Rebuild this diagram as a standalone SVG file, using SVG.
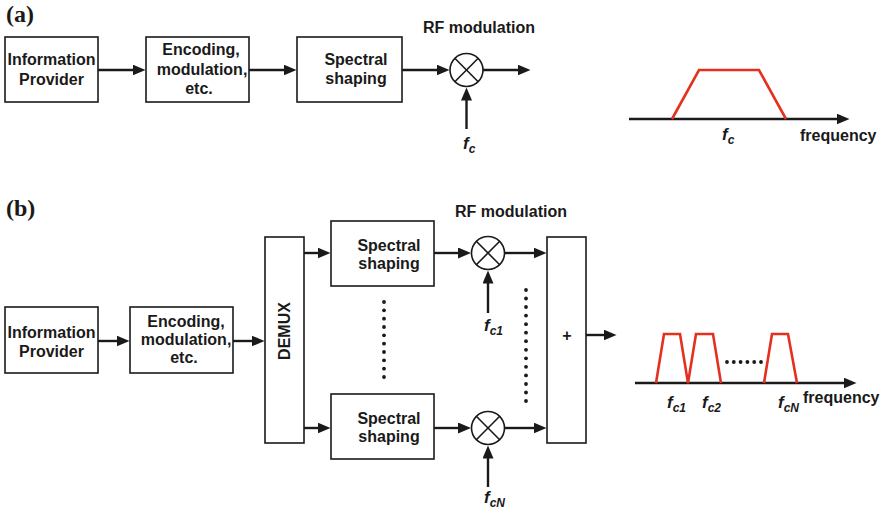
<svg xmlns="http://www.w3.org/2000/svg" width="884" height="514" viewBox="0 0 884 514">
  <style>
    .box { fill: #fff; stroke: #1a1a1a; stroke-width: 1.6; }
    .lbl { font-family: "Liberation Sans", Arial, sans-serif; font-weight: bold; font-size: 16px; fill: #1a1a1a; }
    .mid { text-anchor: middle; }
    .panel { font-family: "Liberation Serif", "Times New Roman", serif; font-weight: bold; font-size: 24px; fill: #1a1a1a; }
    .fsym { font-family: "Liberation Sans", Arial, sans-serif; font-weight: bold; font-style: italic; font-size: 17px; fill: #1a1a1a; }
    .sub { font-size: 12px; }
    .wire { stroke: #1a1a1a; stroke-width: 2.4; fill: none; }
    .arr { marker-end: url(#head); }
    .mix { fill: #fff; stroke: #1a1a1a; stroke-width: 1.6; }
    .cross { stroke: #1a1a1a; stroke-width: 1.6; }
    .spec { stroke: #e5301f; stroke-width: 2.6; fill: none; stroke-linejoin: miter; }
    .dot { fill: #1a1a1a; }
  </style>
  <defs>
    <marker id="head" markerUnits="userSpaceOnUse" markerWidth="14" markerHeight="12" refX="0.5" refY="5.5" orient="auto">
      <path d="M0,0 L13,5.5 L0,11 z" fill="#1a1a1a"/>
    </marker>
    <g id="mixer">
      <circle r="16.5" class="mix"/>
      <line x1="-11.7" y1="-11.7" x2="11.7" y2="11.7" class="cross"/>
      <line x1="-11.7" y1="11.7" x2="11.7" y2="-11.7" class="cross"/>
    </g>
  </defs>

  <rect width="884" height="514" fill="#fff"/>

  <!-- panel labels -->
  <text x="6" y="22" class="panel">(a)</text>
  <text x="6" y="216" class="panel">(b)</text>

  <!-- ===== (a) single-carrier chain ===== -->
  <g id="a-info">
    <rect x="5" y="37" width="93" height="65" class="box"/>
    <text x="51.5" y="65" class="lbl mid">Information</text>
    <text x="51.5" y="85" class="lbl mid">Provider</text>
  </g>
  <g id="a-encoding">
    <rect x="146" y="37" width="103" height="65" class="box"/>
    <text x="201" y="55" class="lbl mid">Encoding,</text>
    <text x="202" y="75" class="lbl mid">modulation,</text>
    <text x="199" y="94" class="lbl mid">etc.</text>
  </g>
  <g id="a-shaping">
    <rect x="297" y="37" width="105" height="65" class="box"/>
    <text x="356" y="65" class="lbl mid">Spectral</text>
    <text x="356" y="84" class="lbl mid">shaping</text>
  </g>
  <g id="a-mixer">
    <use href="#mixer" x="466.5" y="70"/>
    <text x="423" y="33" class="lbl">RF modulation</text>
    <text x="463" y="149" class="fsym">f<tspan dy="4" class="sub">c</tspan></text>
  </g>
  <g id="a-spectrum">
    <line x1="629" y1="119" x2="837" y2="119" class="wire arr"/>
    <polyline points="672,119 699,70 759,70 786,119" class="spec"/>
    <text x="722" y="140" class="fsym">f<tspan dy="4" class="sub">c</tspan></text>
    <text x="800" y="141" class="lbl">frequency</text>
  </g>

  <!-- ===== (b) multi-carrier chain ===== -->
  <g id="b-info">
    <rect x="5" y="307" width="93" height="66" class="box"/>
    <text x="51.5" y="338" class="lbl mid">Information</text>
    <text x="51.5" y="357" class="lbl mid">Provider</text>
  </g>
  <g id="b-encoding">
    <rect x="130" y="307" width="103" height="66" class="box"/>
    <text x="186" y="327" class="lbl mid">Encoding,</text>
    <text x="186" y="345" class="lbl mid">modulation,</text>
    <text x="184" y="363" class="lbl mid">etc.</text>
  </g>
  <g id="b-demux">
    <rect x="265" y="237" width="39" height="206" class="box"/>
    <text transform="translate(290,331) rotate(-90)" class="lbl mid">DEMUX</text>
  </g>
  <g id="b-shaping-1">
    <rect x="331" y="221" width="103" height="65" class="box"/>
    <text x="389" y="251" class="lbl mid">Spectral</text>
    <text x="389" y="269" class="lbl mid">shaping</text>
  </g>
  <g id="b-shaping-n">
    <rect x="331" y="394" width="103" height="65" class="box"/>
    <text x="389" y="424" class="lbl mid">Spectral</text>
    <text x="389" y="442" class="lbl mid">shaping</text>
  </g>
  <g id="b-mixer-1">
    <use href="#mixer" x="488" y="253"/>
    <text x="484" y="331" class="fsym">f<tspan dy="4" class="sub">c1</tspan></text>
  </g>
  <g id="b-mixer-n">
    <use href="#mixer" x="488" y="428"/>
    <text x="484" y="503" class="fsym">f<tspan dy="4" class="sub">cN</tspan></text>
  </g>
  <text x="455" y="217" class="lbl">RF modulation</text>
  <g id="b-sum">
    <rect x="547" y="237" width="39" height="206" class="box"/>
    <text x="567" y="341" class="lbl mid">+</text>
  </g>

  <!-- elided branches -->
  <g id="b-dots">
    <g class="dot">
      <circle cx="384" cy="302" r="1.9"/><circle cx="384" cy="310.3" r="1.9"/>
      <circle cx="384" cy="318.7" r="1.9"/><circle cx="384" cy="327" r="1.9"/>
      <circle cx="384" cy="335.3" r="1.9"/><circle cx="384" cy="343.7" r="1.9"/>
      <circle cx="384" cy="352" r="1.9"/><circle cx="384" cy="360.3" r="1.9"/>
      <circle cx="384" cy="368.7" r="1.9"/><circle cx="384" cy="377" r="1.9"/>
    </g>
    <g class="dot">
      <circle cx="526" cy="290" r="1.9"/><circle cx="526" cy="298.5" r="1.9"/>
      <circle cx="526" cy="307" r="1.9"/><circle cx="526" cy="315.6" r="1.9"/>
      <circle cx="526" cy="324.2" r="1.9"/><circle cx="526" cy="332.7" r="1.9"/>
      <circle cx="526" cy="341.2" r="1.9"/><circle cx="526" cy="349.8" r="1.9"/>
      <circle cx="526" cy="358.3" r="1.9"/><circle cx="526" cy="366.8" r="1.9"/>
      <circle cx="526" cy="375.4" r="1.9"/><circle cx="526" cy="384" r="1.9"/>
      <circle cx="526" cy="392.5" r="1.9"/><circle cx="526" cy="401" r="1.9"/>
    </g>
  </g>

  <g id="b-spectrum">
    <line x1="635" y1="383" x2="844" y2="383" class="wire arr"/>
    <polyline points="656,383 664,334 680,334 688,383 696,334 713,334 721,383" class="spec"/>
    <polyline points="764,383 772,334 788,334 797,383" class="spec"/>
    <g class="dot">
      <circle cx="727" cy="362" r="1.9"/><circle cx="733.8" cy="362" r="1.9"/>
      <circle cx="740.6" cy="362" r="1.9"/><circle cx="747.4" cy="362" r="1.9"/>
      <circle cx="754.2" cy="362" r="1.9"/><circle cx="761" cy="362" r="1.9"/>
    </g>
    <text x="667" y="408" class="fsym">f<tspan dy="4" class="sub">c1</tspan></text>
    <text x="702" y="408" class="fsym">f<tspan dy="4" class="sub">c2</tspan></text>
    <text x="778" y="408" class="fsym">f<tspan dy="4" class="sub">cN</tspan></text>
    <text x="803" y="403" class="lbl">frequency</text>
  </g>

  <!-- connectors -->
  <g id="connectors" class="wire">
    <line x1="98" y1="70" x2="133" y2="70" class="arr"/>
    <line x1="249" y1="70" x2="284" y2="70" class="arr"/>
    <line x1="402" y1="70" x2="437" y2="70" class="arr"/>
    <line x1="483" y1="70" x2="518" y2="70" class="arr"/>
    <line x1="466.5" y1="129" x2="466.5" y2="100" class="arr"/>

    <line x1="98" y1="341" x2="117" y2="341" class="arr"/>
    <line x1="233" y1="341" x2="252" y2="341" class="arr"/>
    <line x1="304" y1="253" x2="318" y2="253" class="arr"/>
    <line x1="304" y1="428" x2="318" y2="428" class="arr"/>
    <line x1="434" y1="253" x2="458.5" y2="253" class="arr"/>
    <line x1="434" y1="428" x2="458.5" y2="428" class="arr"/>
    <line x1="504.5" y1="253" x2="534" y2="253" class="arr"/>
    <line x1="504.5" y1="428" x2="534" y2="428" class="arr"/>
    <line x1="586" y1="335" x2="604" y2="335" class="arr"/>
    <line x1="488" y1="313" x2="488" y2="283" class="arr"/>
    <line x1="488" y1="487" x2="488" y2="458" class="arr"/>
  </g>
</svg>
